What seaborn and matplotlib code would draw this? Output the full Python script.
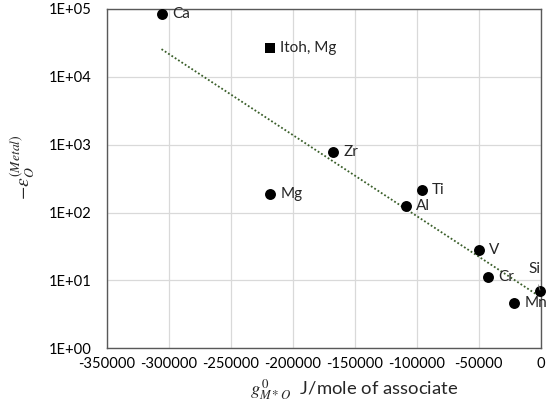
import matplotlib
matplotlib.use("Agg")
import matplotlib.pyplot as plt
import seaborn as sns
import pandas as pd
import numpy as np

# ---- data ----
elements = ["Ca", "Mg", "Zr", "Ti", "Al", "V", "Cr", "Si", "Mn"]
g0_values = [-305600, -218500, -167500, -96100, -109000, -49800, -42300, -300, -21300]
eps_values = [84400, 191, 773, 217, 127, 28.5, 11.4, 6.9, 4.6]

itoh_label = ["Itoh, Mg"]
itoh_g0 = [-218500]
itoh_eps = [26800]

trend_g0 = [-306000, -800]
trend_eps = [25600, 5.8]

x_ticks = [-350000, -300000, -250000, -200000, -150000, -100000, -50000, 0]
x_tick_labels = ["-350000", "-300000", "-250000", "-200000", "-150000", "-100000", "-50000", "0"]
y_ticks = [1, 10, 100, 1000, 10000, 100000]
y_tick_labels = ["1E+00", "1E+01", "1E+02", "1E+03", "1E+04", "1E+05"]

sns.set_theme(style="white")
plt.rcParams["font.family"] = ["Lato", "DejaVu Sans"]
plt.rcParams["mathtext.fontset"] = "stix"

fig = plt.figure(figsize=(5.46, 4.13), dpi=100)
ax = fig.add_axes([107 / 546, 1 - 348.3 / 413, (540.7 - 107) / 546, (348.3 - 9) / 413])

df = pd.DataFrame({"g0": g0_values, "eps": eps_values, "el": elements})
df_itoh = pd.DataFrame({"g0": itoh_g0, "eps": itoh_eps})
df_trend = pd.DataFrame({"g0": trend_g0, "eps": trend_eps})

sns.lineplot(data=df_trend, x="g0", y="eps", ax=ax, color="#3a5f2a",
             linestyle=(0, (1, 1.2)), linewidth=1.3, zorder=2)
sns.scatterplot(data=df, x="g0", y="eps", ax=ax, marker="o", s=62,
                color="black", edgecolor="black", linewidth=0, zorder=3, clip_on=False)
sns.scatterplot(data=df_itoh, x="g0", y="eps", ax=ax, marker="s", s=52,
                color="black", edgecolor="black", linewidth=0, zorder=3, clip_on=False)

ax.set_yscale("log")
ax.set_xlim(-350000, 0)
ax.set_ylim(1, 100000)
ax.set_xticks(x_ticks)
ax.set_xticklabels(x_tick_labels)
ax.set_yticks(y_ticks)
ax.set_yticklabels(y_tick_labels)
ax.yaxis.set_minor_locator(matplotlib.ticker.NullLocator())

ax.grid(True, which="major", color="#d9d9d9", linewidth=0.9)
ax.set_axisbelow(True)
for sp in ax.spines.values():
    sp.set_color("#595959")
    sp.set_linewidth(1.0)
ax.tick_params(axis="both", which="major", direction="in", length=3.5, width=0.9,
               color="#595959", labelsize=10.6, labelcolor="black")
ax.tick_params(axis="x", pad=6)
ax.tick_params(axis="y", pad=11)

# point labels
for el, xv, yv in zip(elements, g0_values, eps_values):
    if el == "Si":
        ax.annotate(el, xy=(xv, yv), xytext=(-4.5, 16), textcoords="offset points",
                    ha="center", va="center", fontsize=11, annotation_clip=False,
                    arrowprops=dict(arrowstyle="-", color="#8c8c8c", lw=0.6,
                                    shrinkA=4, shrinkB=1))
    else:
        ax.annotate(el, xy=(xv, yv), xytext=(7.5, 0), textcoords="offset points",
                    ha="left", va="center", fontsize=11, annotation_clip=False)
for lab, xv, yv in zip(itoh_label, itoh_g0, itoh_eps):
    ax.annotate(lab, xy=(xv, yv), xytext=(7.5, 0), textcoords="offset points",
                ha="left", va="center", fontsize=11, annotation_clip=False)

ax.set_xlabel(r"$\mathit{g}^{\,0}_{M*O}$  J/mole of associate", fontsize=13.3)
ax.xaxis.set_label_coords(0.57, -0.084)
ax.set_ylabel(r"$-\varepsilon_{O}^{(Metal)}$", fontsize=14)
ax.yaxis.set_label_coords(-0.162, 0.534)

fig.savefig("out.png", dpi=100)
